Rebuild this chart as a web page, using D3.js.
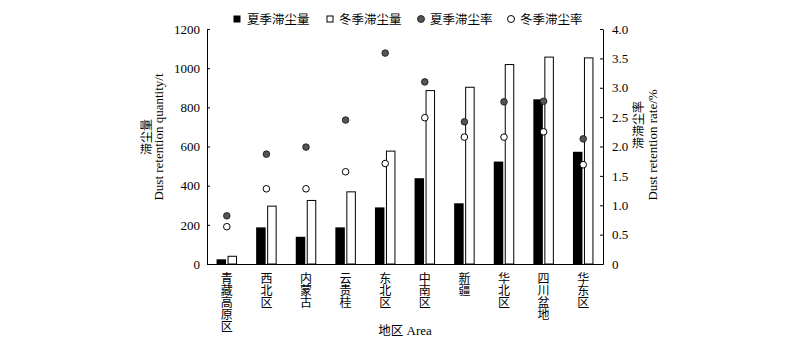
<!DOCTYPE html>
<html><head><meta charset="utf-8">
<script src="https://cdn.jsdelivr.net/npm/d3@7"></script>
<style>
html,body{margin:0;padding:0;background:#fff;}
text{font-family:"Liberation Serif","Noto Sans CJK SC",serif;}
.cjk{font-family:"Noto Sans CJK SC",sans-serif;}
</style></head>
<body><svg id="c" width="800" height="348"></svg>
<script>
const categories = ["青藏高原区","西北区","内蒙古","云贵桂","东北区","中南区","新疆","华北区","四川盆地","华东区"];
const summerQty = [24, 187, 139, 187, 289, 438, 310, 523, 841, 573];
const winterQty = [42, 298, 327, 371, 579, 888, 905, 1021, 1059, 1055];
const summerRate = [0.82, 1.87, 1.99, 2.45, 3.59, 3.10, 2.42, 2.76, 2.77, 2.13];
const winterRate = [0.635, 1.28, 1.28, 1.57, 1.71, 2.49, 2.16, 2.16, 2.25, 1.69];
const leftTicks = [0,200,400,600,800,1000,1200];
const rightTicks = [0,0.5,1,1.5,2,2.5,3,3.5,4];
const legendNames = ["夏季滞尘量","冬季滞尘量","夏季滞尘率","冬季滞尘率"];

const svg = d3.select("#c");
const L = 207, R = 603, T = 29, B = 264;
const x = d3.scaleBand().domain(categories).range([L, R]);
const yL = d3.scaleLinear().domain([0,1200]).range([B, T]);
const yR = d3.scaleLinear().domain([0,4]).range([B, T]);
const bw = 9.5, gap = 1.5;

// bars
const g = svg.append("g");
g.selectAll("rect.s").data(categories).join("rect")
  .attr("x", d => x(d) + x.bandwidth()/2 - gap/2 - bw)
  .attr("y", (d,i) => yL(summerQty[i]))
  .attr("width", bw).attr("height", (d,i) => B - yL(summerQty[i]))
  .attr("fill", "#000");
g.selectAll("rect.w").data(categories).join("rect")
  .attr("x", d => x(d) + x.bandwidth()/2 + gap/2 + 0.5)
  .attr("y", (d,i) => yL(winterQty[i]) + 0.5)
  .attr("width", bw - 1).attr("height", (d,i) => B - yL(winterQty[i]) - 0.5)
  .attr("fill", "#fff").attr("stroke", "#000").attr("stroke-width", 1);

// dots
g.selectAll("circle.s").data(categories).join("circle")
  .attr("cx", d => x(d) + x.bandwidth()/2)
  .attr("cy", (d,i) => yR(summerRate[i]))
  .attr("r", 3.3).attr("fill", "#555").attr("stroke", "#111").attr("stroke-width", 0.8);
g.selectAll("circle.w").data(categories).join("circle")
  .attr("cx", d => x(d) + x.bandwidth()/2)
  .attr("cy", (d,i) => yR(winterRate[i]))
  .attr("r", 3.3).attr("fill", "#fff").attr("stroke", "#000").attr("stroke-width", 1);

// axes
const axL = svg.append("g").attr("transform", `translate(${L},0)`)
  .call(d3.axisLeft(yL).tickValues(leftTicks).tickSizeInner(-3).tickSizeOuter(0).tickPadding(7).tickFormat(d3.format("d")));
const axR = svg.append("g").attr("transform", `translate(${R},0)`)
  .call(d3.axisRight(yR).tickValues(rightTicks).tickSizeInner(-3).tickSizeOuter(0).tickPadding(9)
    .tickFormat(d => d === 0 ? "0" : d3.format(".1f")(d)));
const axB = svg.append("g").attr("transform", `translate(0,${B})`)
  .call(d3.axisBottom(x).tickSize(0).tickPadding(0));
[axL, axR].forEach(a => {
  a.select(".domain").attr("stroke", "#000");
  a.selectAll("text").attr("font-size", 13).attr("font-family", "Liberation Serif").attr("fill", "#000");
  a.selectAll("line").attr("stroke", "#000");
});
axB.select(".domain").attr("stroke", "#000");
axB.selectAll("text").attr("class", "cjk").attr("font-size", 12).attr("fill", "#000")
  .attr("dy", null).attr("y", 8)
  .style("writing-mode", "vertical-rl").style("text-orientation", "upright")
  .attr("text-anchor", "start");

// axis titles
svg.append("text").attr("class","cjk").attr("font-size", 12)
  .attr("transform", "translate(151,137) rotate(-90)").attr("text-anchor","middle").text("滞尘量");
svg.append("text").attr("font-size", 13)
  .attr("transform", "translate(163,137) rotate(-90)").attr("text-anchor","middle").text("Dust retention quantity/t");
svg.append("text").attr("class","cjk").attr("font-size", 12)
  .attr("transform", "translate(643,125) rotate(-90)").attr("text-anchor","middle").text("滞滞尘率");
svg.append("text").attr("font-size", 13)
  .attr("transform", "translate(657,145) rotate(-90)").attr("text-anchor","middle").text("Dust retention rate/%");
const xt = svg.append("text").attr("x", 405).attr("y", 335).attr("text-anchor","middle");
xt.append("tspan").attr("class","cjk").attr("font-size", 12.5).text("地区");
xt.append("tspan").attr("font-size", 13).text(" Area");

// legend
const lg = svg.append("g");
const ly = 19;
const lx = [237, 330, 421, 511];
const tx = [247, 339, 430, 520];
lg.append("rect").attr("x", lx[0]-3.5).attr("y", ly-3.5).attr("width",7).attr("height",7).attr("fill","#000");
lg.append("rect").attr("x", lx[1]-3).attr("y", ly-3).attr("width",6).attr("height",6).attr("fill","#fff").attr("stroke","#000");
lg.append("circle").attr("cx", lx[2]).attr("cy", ly).attr("r",3.5).attr("fill","#555").attr("stroke","#111").attr("stroke-width",0.8);
lg.append("circle").attr("cx", lx[3]).attr("cy", ly).attr("r",3.5).attr("fill","#fff").attr("stroke","#000");
lg.selectAll("text").data(legendNames).join("text").attr("class","cjk")
  .attr("x", (d,i) => tx[i]).attr("y", ly + 4.5).attr("font-size", 12.5).text(d => d);
</script></body></html>
